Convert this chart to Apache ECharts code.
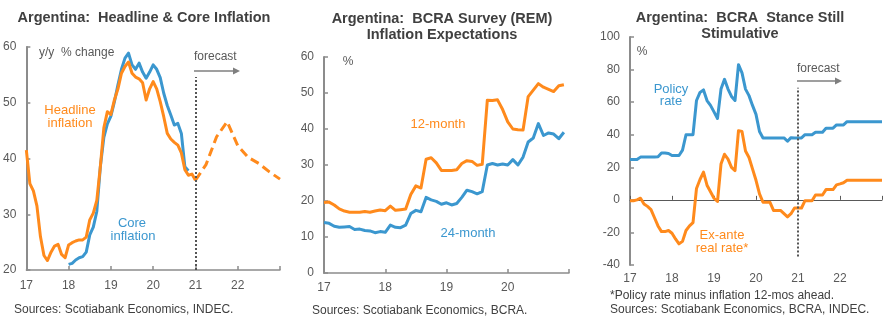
<!DOCTYPE html>
<html>
<head>
<meta charset="utf-8">
<script src="https://cdn.jsdelivr.net/npm/echarts@6/dist/echarts.min.js"></script>
<style>
html,body{margin:0;padding:0;background:#fff;}
#chart{width:885px;height:324px;}
</style>
</head>
<body>
<div id="chart"></div>
<script>
// ---- Data (monthly, plotted at month end) ----
// Headline & core CPI, y/y % change
var headlineStart = '2016-12';
var headline = [41.5, 35.5, 34.2, 31.5, 26.0, 22.6, 21.7, 23.2, 24.3, 24.6,
                22.8, 22.2, 24.5, 24.9, 25.2, 25.4, 25.4, 25.9, 29.0, 30.2,
                32.5, 38.5, 45.5, 48.4, 47.9, 50.5, 52.5, 55.3, 56.5, 57.3,
                55.3, 54.6, 54.3, 53.6, 50.5, 52.5, 53.8, 52.5, 50.2, 47.5,
                44.5, 43.5, 42.9, 42.4, 41.0, 38.0, 37.0, 37.2, 36.1];
var coreStart = '2017-12';
var core = [21.0, 21.2, 21.8, 22.2, 22.4, 23.2, 26.3, 27.7, 30.5, 38.5,
            43.8, 46.2, 47.6, 50.2, 53.2, 56.0, 58.0, 58.9, 56.8, 56.0,
            57.1, 55.5, 54.4, 55.5, 56.8, 56.0, 54.5, 51.7, 49.5, 47.8,
            46.0, 46.3, 44.5, 38.5, 37.8];
var forecastMonths = ['2020-12', '2021-03', '2021-06', '2021-09', '2021-12',
                      '2022-03', '2022-06', '2022-09', '2022-12'];
var headlineForecast = [36.1, 38.9, 43.9, 46.6, 42.3, 40.2, 39.1, 37.6, 36.3];

// BCRA REM survey, expected inflation %
var remStart = '2016-12';
var rem12m = [19.6, 19.7, 18.9, 17.8, 17.2, 16.9, 16.9, 16.9, 17.1, 16.9,
              17.2, 17.5, 17.3, 18.6, 17.4, 17.6, 17.8, 21.8, 24.2, 23.6,
              31.6, 32.0, 30.6, 28.5, 28.5, 28.5, 28.7, 30.4, 31.2, 31.0,
              29.9, 30.2, 48.0, 47.9, 48.1, 45.4, 42.0, 40.0, 39.8, 39.7,
              49.0, 50.8, 52.6, 51.6, 51.0, 50.4, 52.0, 52.3];
var rem24m = [14.0, 13.8, 13.0, 12.7, 12.8, 12.9, 12.1, 12.2, 11.8, 11.7,
              11.2, 11.5, 11.3, 13.3, 12.7, 12.6, 13.3, 16.5, 17.4, 17.0,
              21.0, 20.3, 19.9, 19.1, 19.5, 18.9, 19.3, 21.0, 23.0, 22.6,
              22.0, 22.6, 30.0, 30.4, 30.0, 30.3, 30.0, 31.5, 30.0, 32.2,
              36.4, 37.5, 41.5, 38.2, 38.9, 38.6, 37.3, 39.1];

// Policy rate and ex-ante real rate, %
var rateStart = '2016-12';
var policyRate = [24.75, 24.75, 24.75, 26.25, 26.25, 26.25, 26.25, 26.25, 26.5, 28.75,
                  28.75, 28.5, 27.25, 27.25, 27.25, 30.5, 40, 40, 40, 61,
                  66, 67.5, 61, 58, 54, 50, 68, 74, 68, 63.5,
                  61, 83, 78, 68, 64, 58, 52.5, 42, 38, 38,
                  38, 38, 38, 38, 38, 36, 38.2, 38, 38, 38,
                  40, 40, 40, 41.5, 41.5, 41.5, 44, 44, 44, 46,
                  46, 46, 48, 48, 48, 48, 48, 48, 48, 48,
                  48, 48, 48];
var realRate = [-0.5, -0.5, 0, 1, -2.5, -4, -6, -11, -16, -19.5,
                -19.5, -18.8, -20.5, -24, -27, -25.5, -18.8, -16, -14, 7,
                12.5, 17, 9, 5, 1, -1, 22, 28, 25, 20,
                18, 42.5, 42, 30, 26, 19, 12, 3.7, -1.5, -1.5,
                -1.5, -6.5, -6.5, -6.5, -8.5, -10.5, -8.5, -5, -5, -5,
                -0.5, -0.5, -0.5, 3, 3, 3, 6.3, 6.3, 6.3, 9.2,
                9.8, 10.5, 12, 12, 12, 12, 12, 12, 12, 12,
                12, 12, 12];

// ---- Helpers ----
// 'YYYY-MM' -> two-digit year + month/12 (month-end position on the year axis)
function pos(label) {
  var p = label.split('-');
  return Number(p[0]) - 2000 + Number(p[1]) / 12;
}
function monthLabels(start, n) {
  var p = start.split('-');
  var y = Number(p[0]), m = Number(p[1]);
  var out = [];
  for (var i = 0; i < n; i++) {
    out.push(y + '-' + (m < 10 ? '0' : '') + m);
    m++; if (m > 12) { m = 1; y++; }
  }
  return out;
}
function pairs(labels, values) {
  return values.map(function (v, i) { return [pos(labels[i]), v]; });
}
function monthly(start, values) {
  return pairs(monthLabels(start, values.length), values);
}

var ORANGE = '#FF8A1C';
var BLUE = '#3B97CF';
var AXIS = '#8C8C8C';
var LABEL = '#595959';
var TITLE = '#404040';
var FONT = '"Liberation Sans", Arial, sans-serif';

function xAxisCfg(grid, min, max, extra) {
  var a = {
    type: 'value', gridIndex: grid, min: min, max: max, interval: 1,
    axisLine: { show: true, onZero: false, lineStyle: { color: AXIS, width: 1.5 } },
    axisTick: { show: true, inside: true, length: 4, lineStyle: { color: AXIS, width: 1.5 } },
    axisLabel: {
      color: LABEL, fontSize: 12, fontFamily: FONT, margin: 9,
      formatter: function (v) { return v >= max ? '' : String(v); }
    },
    splitLine: { show: false }
  };
  for (var k in extra) a[k] = extra[k];
  return a;
}
function yAxisCfg(grid, min, max, step) {
  return {
    type: 'value', gridIndex: grid, min: min, max: max, interval: step,
    axisLine: { show: true, lineStyle: { color: AXIS, width: 2 } },
    axisTick: { show: true, inside: true, length: 4, lineStyle: { color: AXIS, width: 1.5 } },
    axisLabel: { color: LABEL, fontSize: 12, fontFamily: FONT, margin: 10 },
    splitLine: { show: false }
  };
}
function line(name, xi, yi, data, color, extra) {
  var s = {
    name: name, type: 'line', xAxisIndex: xi, yAxisIndex: yi, data: data,
    showSymbol: false, symbol: 'none', smooth: false, silent: true,
    lineStyle: { color: color, width: 3, join: 'round', cap: 'butt' },
    z: 3
  };
  for (var k in extra) s[k] = extra[k];
  return s;
}
function dividerLine(x, yLow, yHigh) {
  return {
    silent: true, symbol: ['none', 'none'], label: { show: false },
    lineStyle: { color: '#555555', width: 2, type: [2, 2] },
    data: [[{ coord: [x, yLow] }, { coord: [x, yHigh] }]]
  };
}
function text(str, x, y, opts) {
  opts = opts || {};
  return {
    type: 'text', x: x, y: y, silent: true, z: 100,
    style: {
      text: str,
      fill: opts.fill || LABEL,
      font: (opts.bold ? 'bold ' : '') + (opts.size || 12) + 'px ' + FONT,
      textAlign: opts.align || 'left',
      textVerticalAlign: 'middle'
    }
  };
}
function arrow(x1, x2, y) {
  return {
    type: 'group', silent: true, children: [
      { type: 'line', shape: { x1: x1, y1: y, x2: x2 - 5, y2: y },
        style: { stroke: '#7F7F7F', lineWidth: 1.5 } },
      { type: 'polygon', shape: { points: [[x2 - 7, y - 3.5], [x2, y], [x2 - 7, y + 3.5]] },
        style: { fill: '#7F7F7F' } }
    ]
  };
}

var chart = echarts.init(document.getElementById('chart'), null, { renderer: 'canvas' });

var TS = 14.5; // title size

var option = {
  animation: false,
  backgroundColor: '#ffffff',
  grid: [
    { left: 26, top: 47, width: 254, height: 223 },
    { left: 324, top: 57, width: 245, height: 216 },
    { left: 630, top: 37, width: 257, height: 228 }
  ],
  xAxis: [
    xAxisCfg(0, 17, 23, { axisLabel: { color: LABEL, fontSize: 12, fontFamily: FONT, margin: 10,
      formatter: function (v) { return v >= 23 ? '' : String(v); } } }),
    xAxisCfg(1, 17, 21, {}),
    // year labels along the bottom of the policy-rate panel
    xAxisCfg(2, 17, 23, {
      axisLine: { show: false, onZero: false },
      axisTick: { show: false },
      axisLabel: { color: LABEL, fontSize: 12, fontFamily: FONT, margin: 8,
        formatter: function (v) { return v >= 23 ? '' : String(v); } }
    }),
    // zero line with year ticks
    xAxisCfg(2, 17, 23, {
      position: 'top',
      axisLine: { show: true, onZero: true, lineStyle: { color: '#595959', width: 1 } },
      axisTick: { show: true, inside: false, length: 4, lineStyle: { color: '#595959', width: 1 } },
      axisLabel: { show: false }
    })
  ],
  yAxis: [
    yAxisCfg(0, 20, 60, 10),
    yAxisCfg(1, 0, 60, 10),
    yAxisCfg(2, -40, 100, 20)
  ],
  series: [
    line('Core inflation', 0, 0, monthly(coreStart, core), BLUE),
    line('Headline inflation', 0, 0, monthly(headlineStart, headline), ORANGE,
      { z: 4, markLine: dividerLine(21, 20, 54.6) }),
    line('Headline forecast', 0, 0, pairs(forecastMonths, headlineForecast), ORANGE,
      { z: 4, lineStyle: { color: ORANGE, width: 3, type: [9, 5] } }),

    line('12-month', 1, 1, monthly(remStart, rem12m), ORANGE),
    line('24-month', 1, 1, monthly(remStart, rem24m), BLUE),

    line('Policy rate', 2, 2, monthly(rateStart, policyRate), BLUE,
      { markLine: dividerLine(21, -34.8, 68.9) }),
    line('Ex-ante real rate', 2, 2, monthly(rateStart, realRate), ORANGE)
  ],
  graphic: [
    // left panel
    text('Argentina:  Headline & Core Inflation', 144, 18, { bold: true, size: TS, fill: TITLE, align: 'center' }),
    text('y/y  % change', 39, 53),
    text('forecast', 194, 57),
    arrow(194, 240, 71),
    text('Headline', 70, 110, { fill: ORANGE, size: 13, align: 'center' }),
    text('inflation', 70, 123, { fill: ORANGE, size: 13, align: 'center' }),
    text('Core', 132, 223, { fill: BLUE, size: 13, align: 'center' }),
    text('inflation', 133, 236, { fill: BLUE, size: 13, align: 'center' }),
    text('Sources: Scotiabank Economics, INDEC.', 14, 310, { fill: TITLE }),

    // middle panel
    text('Argentina:  BCRA Survey (REM)', 442, 19, { bold: true, size: TS, fill: TITLE, align: 'center' }),
    text('Inflation Expectations', 442, 35, { bold: true, size: TS, fill: TITLE, align: 'center' }),
    text('%', 348, 62, { align: 'center' }),
    text('12-month', 438, 124, { fill: ORANGE, size: 13, align: 'center' }),
    text('24-month', 468, 233, { fill: BLUE, size: 13, align: 'center' }),
    text('Sources: Scotiabank Economics, BCRA.', 312, 311, { fill: TITLE }),

    // right panel
    text('Argentina:  BCRA  Stance Still', 740, 18, { bold: true, size: TS, fill: TITLE, align: 'center' }),
    text('Stimulative', 740, 34, { bold: true, size: TS, fill: TITLE, align: 'center' }),
    text('%', 642, 52, { align: 'center' }),
    text('forecast', 797, 69),
    arrow(797, 842, 81),
    text('Policy', 671, 89, { fill: BLUE, size: 13, align: 'center' }),
    text('rate', 671, 101, { fill: BLUE, size: 13, align: 'center' }),
    text('Ex-ante', 722, 235, { fill: ORANGE, size: 13, align: 'center' }),
    text('real rate*', 722, 248, { fill: ORANGE, size: 13, align: 'center' }),
    text('*Policy rate minus inflation 12-mos ahead.', 610, 296, { fill: TITLE }),
    text('Sources: Scotiabank Economics, BCRA, INDEC.', 610, 310, { fill: TITLE })
  ]
};

chart.setOption(option);
</script>
</body>
</html>
